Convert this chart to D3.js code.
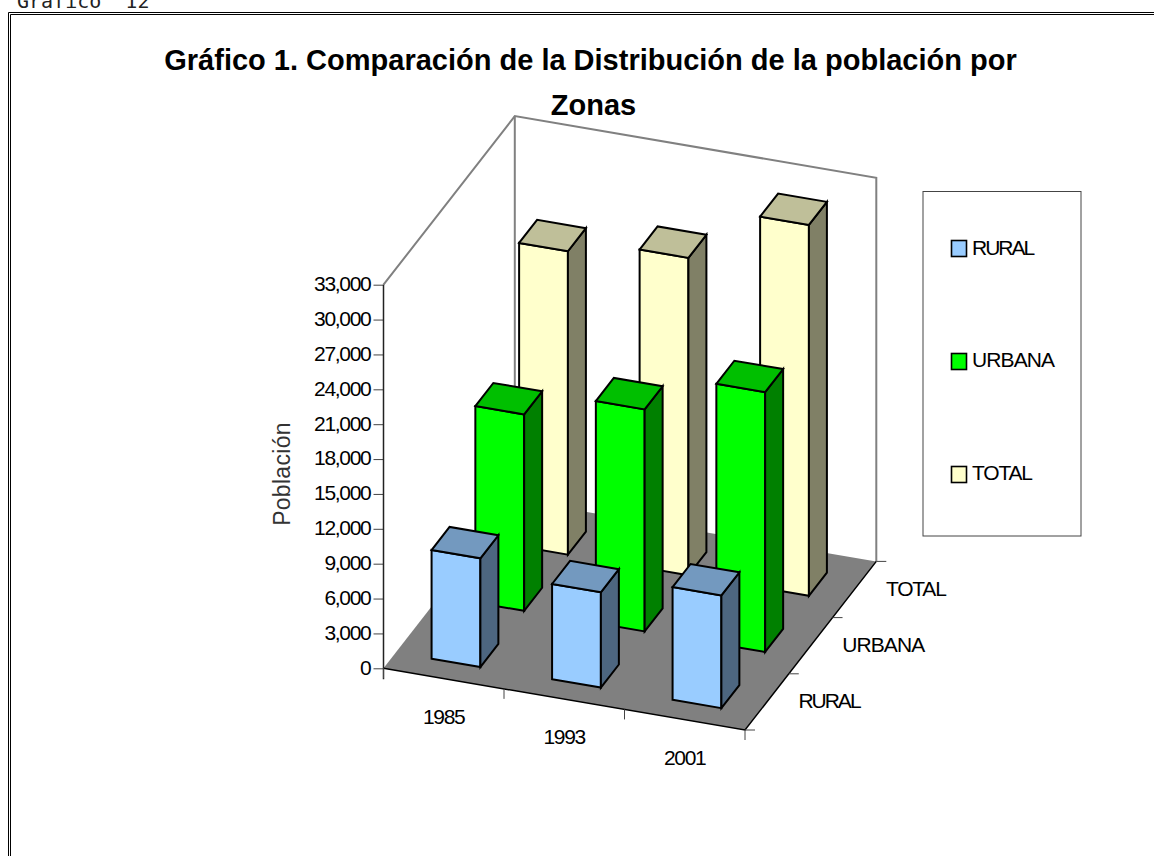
<!DOCTYPE html>
<html>
<head>
<meta charset="utf-8">
<script src="https://cdn.jsdelivr.net/npm/d3@7"></script>
<style>
  html, body { margin: 0; padding: 0; background: #fff; overflow: hidden; }
  text { font-family: "Liberation Sans", Arial, sans-serif; fill: #000; }
</style>
</head>
<body>
<svg id="chart" width="1154" height="856"></svg>
<script>
var years = ['1985', '1993', '2001'];
var zones = ['RURAL', 'URBANA', 'TOTAL'];
var rural = [9350, 8200, 9700];
var urbana = [16900, 19100, 22350];
var total = [26100, 27300, 31900];
var yTicks = [0, 3000, 6000, 9000, 12000, 15000, 18000, 21000, 24000, 27000, 30000, 33000];
var zoneColors = ['#99CCFF', '#00FF00', '#FFFFCC'];
var zoneSpacing = ['-2px', '-0.9px', '-1.2px'];
var titleLines = ['Gráfico 1. Comparación de la Distribución de la población por', 'Zonas'];

var svg = d3.select('#chart');

// the oblique projection of the box: front left corner + two floor vectors
var O = [383.5, 668.3], XV = [361.5, 61.7], ZV = [131.3, -168.6];

var x = d3.scaleBand().domain(years).range([0, 1]).paddingInner(0.595).paddingOuter(0.2975);
var z = d3.scaleBand().domain(zones).range([-0.005, 0.995]).paddingInner(0.589).paddingOuter(0.2945);
var h = d3.scaleLinear().domain([0, 33000]).range([0, -383.6]);

function pt(a, b, v) {
  return [O[0] + a * XV[0] + b * ZV[0], O[1] + a * XV[1] + b * ZV[1] + h(v)];
}
var line = d3.line();
function poly(points) { return line(points) + 'Z'; }
function shade(c, k) {
  var r = d3.rgb(c);
  return d3.rgb(r.r * k, r.g * k, r.b * k).formatHex();
}

// page heading above the frame, cut by the top of the page
svg.append('text').attr('x', 17).attr('y', 8)
  .style('font-family', '"DejaVu Sans Mono"').style('font-size', '20px')
  .style('white-space', 'pre').style('fill', '#222')
  .text('Gráfico  12');

// double frame
svg.append('path').attr('d', 'M8.5,856V12.5H1154').attr('fill', 'none').attr('stroke', '#000');
svg.append('path').attr('d', 'M10.5,856V14.5H1154').attr('fill', 'none').attr('stroke', '#000');

// title
svg.append('g').selectAll('text').data(titleLines).enter().append('text')
  .attr('x', function(d, i) { return i == 0 ? 590.5 : 593.5; })
  .attr('y', function(d, i) { return 70 + i * 45; })
  .attr('text-anchor', 'middle')
  .style('font-size', '29px')
  .style('font-weight', 'bold')
  .text(function(d) { return d; });

// floor
svg.append('path')
  .attr('d', poly([pt(0, 0, 0), pt(1, 0, 0), pt(1, 1, 0), pt(0, 1, 0)]))
  .attr('fill', '#808080');

// back walls, outline only
svg.append('path')
  .attr('d', line([pt(0, 0, 33000), pt(0, 1, 33000), pt(1, 1, 33000), pt(1, 1, 0)]))
  .attr('fill', 'none').attr('stroke', '#808080').attr('stroke-width', 2);
svg.append('path')
  .attr('d', line([pt(0, 1, 33000), pt(0, 1, 0)]))
  .attr('fill', 'none').attr('stroke', '#808080').attr('stroke-width', 2);

// floor edges at the front
svg.append('path')
  .attr('d', line([pt(0, 0, 0), pt(1, 0, 0), pt(1, 1, 0)]))
  .attr('fill', 'none').attr('stroke', '#000').attr('stroke-width', 1.5);

// bars, back row first
var rows = [rural, urbana, total];
var bars = [];
[2, 1, 0].forEach(function(j) {
  years.forEach(function(y, i) {
    bars.push({ year: y, zone: zones[j], value: rows[j][i], color: zoneColors[j] });
  });
});

var barSel = svg.append('g').attr('class', 'bars')
  .selectAll('g').data(bars).enter().append('g')
  .attr('stroke', '#000').attr('stroke-width', 2).attr('stroke-linejoin', 'miter');

function corners(d) {
  var a0 = x(d.year), a1 = a0 + x.bandwidth(), b0 = z(d.zone), b1 = b0 + z.bandwidth();
  return { a0: a0, a1: a1, b0: b0, b1: b1 };
}
barSel.append('path')
  .attr('fill', function(d) { return d.color; })
  .attr('d', function(d) {
    var c = corners(d);
    return poly([pt(c.a0, c.b0, 0), pt(c.a1, c.b0, 0), pt(c.a1, c.b0, d.value), pt(c.a0, c.b0, d.value)]);
  });
barSel.append('path')
  .attr('fill', function(d) { return shade(d.color, 0.5); })
  .attr('d', function(d) {
    var c = corners(d);
    return poly([pt(c.a1, c.b0, 0), pt(c.a1, c.b1, 0), pt(c.a1, c.b1, d.value), pt(c.a1, c.b0, d.value)]);
  });
barSel.append('path')
  .attr('fill', function(d) { return shade(d.color, 0.75); })
  .attr('d', function(d) {
    var c = corners(d);
    return poly([pt(c.a0, c.b0, d.value), pt(c.a1, c.b0, d.value), pt(c.a1, c.b1, d.value), pt(c.a0, c.b1, d.value)]);
  });

// value axis
var yAxisScale = d3.scaleLinear().domain([0, 33000]).range([O[1], O[1] - 383.6]);
var yAxis = svg.append('g').attr('transform', 'translate(' + O[0] + ',0)')
  .call(d3.axisLeft(yAxisScale).tickValues(yTicks).tickSize(10).tickPadding(3).tickFormat(d3.format(',')));
yAxis.select('.domain').remove();
yAxis.selectAll('.tick line').attr('stroke', '#444').attr('stroke-width', 1);
yAxis.selectAll('text').style('font-size', '21px').style('letter-spacing', '-1.3px')
  .style('font-family', '"Liberation Sans"').attr('dy', '0.28em');
svg.append('path').attr('d', line([pt(0, 0, 33000), [O[0], O[1] + 11]]))
  .attr('stroke', '#222').attr('stroke-width', 1.5).attr('fill', 'none');

svg.append('text')
  .attr('transform', 'translate(290,474) rotate(-90)')
  .attr('text-anchor', 'middle')
  .style('font-size', '23px').style('fill', '#333').style('letter-spacing', '0.3px')
  .text('Población');

// year ticks and labels on the front edge
var edgeTicks = [0, 1 / 3, 2 / 3, 1];
svg.append('g').selectAll('path').data(edgeTicks).enter().append('path')
  .attr('d', function(d) { var p = pt(d, 0, 0); return line([p, [p[0], p[1] + 10]]); })
  .attr('stroke', '#444').attr('fill', 'none');
svg.append('g').selectAll('text').data(years).enter().append('text')
  .attr('x', function(d) { return pt(x(d) + x.bandwidth() / 2, 0, 0)[0]; })
  .attr('y', function(d) { return pt(x(d) + x.bandwidth() / 2, 0, 0)[1] + 45; })
  .attr('text-anchor', 'middle')
  .style('font-size', '21px').style('letter-spacing', '-1.3px')
  .text(function(d) { return d; });

// zone ticks and labels on the right edge
svg.append('g').selectAll('path').data(edgeTicks).enter().append('path')
  .attr('d', function(d) { var p = pt(1, d, 0); return line([p, [p[0] + 10, p[1]]]); })
  .attr('stroke', '#444').attr('fill', 'none');
svg.append('g').selectAll('text').data(zones).enter().append('text')
  .attr('x', function(d, i) { return pt(1, (i + 0.5) / 3, 0)[0] + 31.5; })
  .attr('y', function(d, i) { return pt(1, (i + 0.5) / 3, 0)[1] + 6; })
  .style('font-size', '21px').style('letter-spacing', function(d, i) { return zoneSpacing[i]; })
  .text(function(d) { return d; });

// legend
var legend = svg.append('g');
legend.append('rect')
  .attr('x', 923).attr('y', 191.5).attr('width', 158).attr('height', 344.5)
  .attr('fill', '#fff').attr('stroke', '#444');
var legendItem = legend.selectAll('g').data(zones).enter().append('g')
  .attr('transform', function(d, i) { return 'translate(951.5,' + (240.5 + i * 113) + ')'; });
legendItem.append('rect')
  .attr('width', 15).attr('height', 16)
  .attr('fill', function(d, i) { return zoneColors[i]; })
  .attr('stroke', '#000').attr('stroke-width', 1.6);
legendItem.append('text')
  .attr('x', 20.5).attr('y', function(d, i) { return 14 - i * 0.5; })
  .style('font-size', '21px').style('letter-spacing', function(d, i) { return zoneSpacing[i]; })
  .text(function(d) { return d; });
</script>
</body>
</html>
